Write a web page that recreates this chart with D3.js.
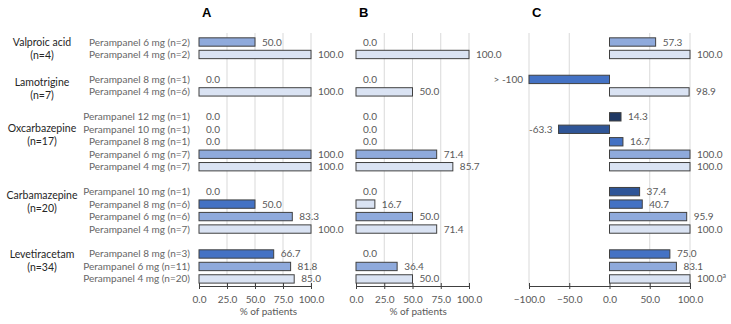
<!DOCTYPE html>
<html>
<head>
<meta charset="utf-8">
<script src="https://cdn.jsdelivr.net/npm/d3@7"></script>
<style>
  body { margin: 0; background: #fff; }
  text { font-family: Lato, "Open Sans", sans-serif; }
</style>
</head>
<body>
<div id="chart"></div>
<script>
  // groups of co-medication (AED) and their sizes
  const groups = ['Valproic acid', 'Lamotrigine', 'Oxcarbazepine', 'Carbamazepine', 'Levetiracetam'];
  const groupN = [4, 7, 17, 20, 34];

  // perampanel dose rows, per group
  const rowDoses = [
    [6, 4],
    [8, 4],
    [12, 10, 8, 6, 4],
    [10, 8, 6, 4],
    [8, 6, 4]
  ];
  const rowLabels = [
    ['Perampanel 6 mg (n=2)', 'Perampanel 4 mg (n=2)'],
    ['Perampanel 8 mg (n=1)', 'Perampanel 4 mg (n=6)'],
    ['Perampanel 12 mg (n=1)', 'Perampanel 10 mg (n=1)', 'Perampanel 8 mg  (n=1)', 'Perampanel 6 mg (n=7)', 'Perampanel 4 mg (n=7)'],
    ['Perampanel 10 mg (n=1)', 'Perampanel 8 mg (n=6)', 'Perampanel 6 mg (n=6)', 'Perampanel 4 mg (n=7)'],
    ['Perampanel 8 mg (n=3)', 'Perampanel 6 mg  (n=11)', 'Perampanel 4 mg (n=20)']
  ];

  // panel values, same row order
  const valuesA = [50.0, 100.0, 0.0, 100.0, 0.0, 0.0, 0.0, 100.0, 100.0, 0.0, 50.0, 83.3, 100.0, 66.7, 81.8, 85.0];
  const valuesB = [0.0, 100.0, 0.0, 50.0, 0.0, 0.0, 0.0, 71.4, 85.7, 0.0, 16.7, 50.0, 71.4, 0.0, 36.4, 50.0];
  const valuesC = [57.3, 100.0, -100.0, 98.9, 14.3, -63.3, 16.7, 100.0, 100.0, 37.4, 40.7, 95.9, 100.0, 75.0, 83.1, 100.0];
  const labelsC = ['57.3', '100.0', '> -100', '98.9', '14.3', '-63.3', '16.7', '100.0', '100.0', '37.4', '40.7', '95.9', '100.0', '75.0', '83.1', '100.0'];
  const noteC = [15]; // rows with footnote "a"
  // panel B shades one 8 mg bar like 4 mg in the original
  const shadeDoseB = [6, 4, 8, 4, 12, 10, 8, 6, 4, 10, 4, 6, 4, 8, 6, 4];

  const ticksAB = [0, 25, 50, 75, 100];
  const ticksC = [-100, -50, 0, 50, 100];

  const W = 731, H = 324;
  const svg = d3.select('#chart').append('svg')
    .attr('width', W).attr('height', H);

  const doseColor = d3.scaleOrdinal()
    .domain([4, 6, 8, 10, 12])
    .range(['#dae3f3', '#8faadc', '#4472c4', '#2f5597', '#1f3864']);

  // flatten rows, leaving an empty slot between groups
  let rows = [];
  let slot = 0;
  groups.forEach((g, gi) => {
    rowDoses[gi].forEach((d, ri) => {
      rows.push({ group: gi, dose: d, label: rowLabels[gi][ri], slot: slot });
      slot += 1;
    });
    slot += 1;
  });
  rows.forEach((r, i) => {
    r.a = valuesA[i];
    r.b = valuesB[i];
    r.c = valuesC[i];
    r.cLabel = labelsC[i];
    r.shadeB = shadeDoseB[i];
  });

  const step = 12.47;
  const y = d3.scaleBand()
    .domain(d3.range(slot - 1))
    .range([42 - step / 2, 42 - step / 2 + step * (slot - 1)])
    .paddingInner(0.33)
    .paddingOuter(0.165);

  const axisY = 286;
  const gridTop = 33;

  const panels = [
    { key: 'a', title: 'A', x: d3.scaleLinear().domain([0, 100]).range([199, 311]), ticks: ticksAB, shade: r => r.dose, xlabel: 62 },
    { key: 'b', title: 'B', x: d3.scaleLinear().domain([0, 100]).range([356, 469]), ticks: ticksAB, shade: r => r.shadeB, xlabel: 55 },
    { key: 'c', title: 'C', x: d3.scaleLinear().domain([-100, 100]).range([529, 690]), ticks: ticksC, shade: r => r.dose, xlabel: null }
  ];

  // group labels on the left
  const groupNudge = [-6, -3, -13, -15, -12];
  groups.forEach((g, gi) => {
    let gr = rows.filter(r => r.group === gi);
    let cy = (y(gr[0].slot) + y(gr[gr.length - 1].slot) + y.bandwidth()) / 2 + groupNudge[gi];
    let t = svg.append('text')
      .attr('x', 42)
      .attr('y', cy)
      .attr('text-anchor', 'middle')
      .style('font-size', '10.5px')
      .style('fill', '#262626');
    t.append('tspan').attr('x', 42).attr('dy', '0.35em').text(g);
    t.append('tspan').attr('x', 42).attr('dy', '13').text('(n=' + groupN[gi] + ')');
  });

  // row labels
  svg.selectAll('.rowlabel')
    .data(rows)
    .enter()
    .append('text')
    .attr('class', 'rowlabel')
    .attr('x', 190)
    .attr('y', d => y(d.slot) + y.bandwidth() / 2)
    .attr('dy', '.35em')
    .attr('text-anchor', 'end')
    .style('font-size', '10px')
    .style('fill', '#666')
    .text(d => d.label);

  panels.forEach(p => {
    let g = svg.append('g');
    let x = p.x;

    // panel title
    g.append('text')
      .attr('x', x.range()[0] + 3)
      .attr('y', 17)
      .style('font-family', 'Liberation Sans, Arial, sans-serif')
      .style('font-weight', 'bold')
      .style('font-size', '13px')
      .style('fill', '#000')
      .text(p.title);

    // gridlines
    g.selectAll('.grid')
      .data(p.ticks.filter(t => t !== 0))
      .enter()
      .append('line')
      .attr('x1', d => x(d)).attr('x2', d => x(d))
      .attr('y1', gridTop).attr('y2', axisY)
      .style('stroke', '#d9d9d9')
      .style('stroke-width', 1);

    // bars
    g.selectAll('.bar')
      .data(rows.filter(r => r[p.key] !== 0))
      .enter()
      .append('rect')
      .attr('x', d => x(Math.min(0, d[p.key])))
      .attr('y', d => y(d.slot))
      .attr('width', d => Math.abs(x(d[p.key]) - x(0)))
      .attr('height', y.bandwidth())
      .style('fill', d => doseColor(p.shade(d)))
      .style('stroke', '#404040')
      .style('stroke-width', 1);

    // value labels
    let vl = g.selectAll('.val')
      .data(rows)
      .enter()
      .append('text')
      .attr('x', d => d[p.key] < 0 ? x(d[p.key]) - 6 : x(d[p.key]) + 7)
      .attr('y', d => y(d.slot) + y.bandwidth() / 2)
      .attr('dy', '.35em')
      .attr('text-anchor', d => d[p.key] < 0 ? 'end' : 'start')
      .style('font-size', '10px')
      .style('fill', '#595959')
      .text(d => p.key === 'c' ? d.cLabel : d3.format('.1f')(d[p.key]));

    if (p.key === 'c') {
      vl.filter((d, i) => noteC.includes(i))
        .append('tspan')
        .attr('dy', '-4')
        .style('font-size', '7px')
        .text('a');
    }

    // x axis
    let axis = d3.axisBottom(x)
      .tickValues(p.ticks)
      .tickFormat(d3.format('.1f'))
      .tickSizeInner(3)
      .tickSizeOuter(0)
      .tickPadding(7);
    let ax = g.append('g')
      .attr('transform', 'translate(0,' + axisY + ')')
      .call(axis);
    ax.select('.domain').style('stroke', '#404040');
    ax.selectAll('.tick line')
      .attr('y1', -3)
      .attr('y2', 3)
      .style('stroke', '#404040');
    ax.selectAll('.tick text')
      .style('font-family', 'Lato, sans-serif')
      .style('font-size', '10px')
      .style('fill', '#595959');

    if (p.xlabel !== null) {
      g.append('text')
        .attr('x', x(p.xlabel))
        .attr('y', 315)
        .attr('text-anchor', 'middle')
        .style('font-size', '10px')
        .style('fill', '#595959')
        .text('% of patients');
    }
  });
</script>
</body>
</html>
